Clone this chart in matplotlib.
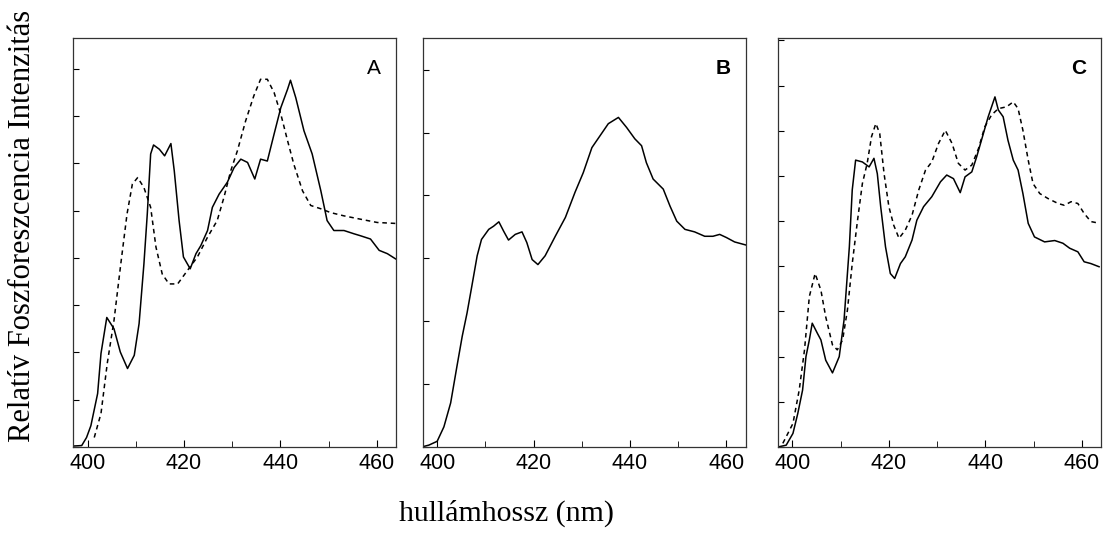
"""
Foszforeszcencia spektrumok (A, B, C panelek).
"""

import matplotlib.pyplot as plt
from matplotlib.ticker import MultipleLocator, NullFormatter

# A panel: folytonos és szaggatott görbe
a_x  = [397.1, 398.8, 399.8, 400.7, 402.1, 402.8, 404.0, 405.5, 406.8, 408.3, 409.7, 410.7, 411.7,
        412.4, 413.1, 413.7, 414.9, 416.0, 417.3, 418.0, 419.0, 419.9, 421.3, 422.5, 423.5,
        424.9, 425.9, 427.3, 429.0, 430.4, 431.8, 433.2, 434.7, 435.9, 437.3, 438.7, 440.1,
        441.5, 442.1, 443.2, 444.9, 446.6, 448.4, 449.7, 451.1, 453.2, 455.3, 456.6, 458.7,
        460.5, 462.2, 463.9]
a_y  = [0.02, 0.03, 0.20, 0.45, 1.13, 1.98, 2.74, 2.50, 2.01, 1.66, 1.94, 2.61, 3.87,
        4.93, 6.20, 6.39, 6.30, 6.16, 6.42, 5.84, 4.79, 4.02, 3.77, 4.09, 4.26,
        4.58, 5.07, 5.35, 5.60, 5.91, 6.09, 6.02, 5.67, 6.09, 6.05, 6.62, 7.18,
        7.57, 7.76, 7.39, 6.69, 6.20, 5.42, 4.79, 4.58, 4.58, 4.51, 4.47, 4.40,
        4.16, 4.09, 3.98]
a2_x = [401.4, 402.8, 404.1, 405.5, 406.9, 408.2, 409.3, 410.4, 411.7, 413.1, 414.2, 415.5,
        416.9, 418.7, 420.7, 422.8, 424.9, 426.9, 428.3, 429.7, 431.1, 432.8, 434.5, 435.9,
        437.3, 438.7, 440.1, 441.5, 442.8, 444.6, 446.3, 448.4, 450.4, 453.2, 456.6, 460.1,
        463.9]
a2_y = [0.20, 0.71, 1.77, 2.68, 3.87, 4.93, 5.56, 5.70, 5.49, 5.07, 4.23, 3.66,
        3.45, 3.45, 3.73, 4.02, 4.44, 4.79, 5.28, 5.84, 6.27, 6.90, 7.43, 7.78,
        7.78, 7.50, 7.04, 6.48, 5.98, 5.42, 5.11, 5.04, 4.96, 4.89, 4.82, 4.75,
        4.73]

# B panel
b_x = [396.8, 398.3, 400.0, 401.4, 402.8, 404.1, 405.2, 406.2, 407.2, 408.3, 409.2, 410.7,
       411.7, 412.8, 413.8, 414.8, 416.2, 417.6, 418.6, 419.7, 420.9, 422.4, 424.5, 426.6,
       428.6, 430.3, 432.1, 433.8, 435.5, 437.6, 439.3, 441.0, 442.4, 443.4, 444.8, 446.9,
       448.3, 449.7, 451.4, 453.4, 455.5, 457.2, 458.6, 460.0, 461.7, 464.1]
b_y = [0.00, 0.03, 0.09, 0.32, 0.70, 1.28, 1.76, 2.13, 2.56, 3.04, 3.30, 3.46,
       3.51, 3.58, 3.43, 3.29, 3.38, 3.42, 3.25, 2.98, 2.90, 3.04, 3.35, 3.65,
       4.05, 4.36, 4.76, 4.95, 5.14, 5.24, 5.08, 4.90, 4.79, 4.52, 4.26, 4.10,
       3.83, 3.59, 3.46, 3.42, 3.35, 3.35, 3.38, 3.33, 3.26, 3.21]

# C panel
c_x  = [397.0, 398.7, 400.1, 401.1, 402.1, 402.8, 403.5, 404.1, 405.2, 405.9, 406.9, 408.3,
        409.7, 410.7, 411.8, 412.4, 413.1, 414.5, 415.9, 416.9, 417.6, 418.3, 419.3, 420.3,
        421.2, 422.4, 423.4, 424.8, 425.8, 427.2, 428.9, 430.7, 432.0, 433.4, 434.8, 435.8,
        437.2, 438.2, 439.2, 440.6, 442.0, 442.7, 443.7, 444.7, 445.8, 446.8, 447.8, 448.9,
        450.2, 452.3, 454.4, 456.1, 457.5, 459.2, 460.5, 461.9, 463.6]
c_y  = [0.00, 0.04, 0.30, 0.74, 1.26, 2.00, 2.37, 2.74, 2.51, 2.37, 1.92, 1.64,
        2.00, 2.81, 4.43, 5.69, 6.35, 6.31, 6.20, 6.39, 6.05, 5.32, 4.43, 3.84,
        3.73, 4.06, 4.21, 4.58, 5.02, 5.32, 5.54, 5.87, 6.02, 5.94, 5.63, 5.98,
        6.09, 6.42, 6.79, 7.31, 7.75, 7.46, 7.31, 6.79, 6.35, 6.13, 5.61, 4.95,
        4.65, 4.54, 4.57, 4.51, 4.40, 4.32, 4.10, 4.06, 3.99]
c2_x = [398.0, 400.1, 401.4, 402.5, 403.5, 404.7, 405.9, 406.9, 408.3, 409.3, 410.4, 411.4,
        412.4, 413.5, 414.5, 415.5, 416.4, 417.3, 418.1, 419.0, 420.0, 421.0, 422.1, 423.4,
        424.8, 426.2, 427.6, 428.9, 430.3, 431.7, 433.1, 434.4, 435.8, 437.2, 438.6, 439.9,
        441.3, 442.7, 444.4, 445.8, 446.8, 447.8, 448.9, 449.9, 451.3, 453.0, 455.1, 456.4,
        457.8, 459.2, 460.5, 461.9, 463.3]
c2_y = [0.08, 0.52, 1.26, 2.15, 3.33, 3.84, 3.47, 2.88, 2.26, 2.15, 2.37, 3.03,
        4.06, 5.02, 5.83, 6.28, 6.87, 7.16, 6.94, 6.05, 5.32, 4.91, 4.62, 4.80,
        5.13, 5.69, 6.13, 6.31, 6.72, 7.01, 6.72, 6.28, 6.13, 6.24, 6.61, 7.09,
        7.35, 7.49, 7.53, 7.64, 7.49, 7.01, 6.35, 5.83, 5.61, 5.50, 5.39, 5.35,
        5.43, 5.39, 5.17, 4.99, 4.96]

betuk = ['A', 'B', 'C']
x_ticks = [400, 420, 440, 460]

fig = plt.figure(figsize=(11.1, 5.33), dpi=100)
bal = [0.0658, 0.3808, 0.7009]
ymax = [8.65, 6.5, 9.05]
axes = [fig.add_axes([b, 0.1614, 0.291, 0.767]) for b in bal]

axes[0].plot(a_x, a_y, color='black', lw=1.1)
axes[0].plot(a2_x, a2_y, color='black', lw=1.1, ls=(0, (3, 2.5)))
axes[1].plot(b_x, b_y, color='black', lw=1.1)
axes[2].plot(c_x, c_y, color='black', lw=1.1)
axes[2].plot(c2_x, c2_y, color='black', lw=1.1, ls=(0, (3, 2.5)))

for ax, betu, ym in zip(axes, betuk, ymax):
  ax.set_xlim(397, 464)
  ax.set_ylim(0, ym)
  ax.set_xticks(x_ticks)
  ax.xaxis.set_minor_locator(MultipleLocator(10))
  ax.yaxis.set_major_locator(MultipleLocator(1))
  ax.yaxis.set_major_formatter(NullFormatter())
  ax.tick_params(axis='x', which='major', direction='in', length=5, pad=4,
                 labelsize=15.5, labelfontfamily='Liberation Sans')
  ax.tick_params(axis='x', which='minor', direction='in', length=4)
  ax.tick_params(axis='y', direction='in', length=4)
  for s in ax.spines.values():
    s.set_linewidth(0.9)
    s.set_color('#333333')
  ax.text(0.93, 0.925, betu, transform=ax.transAxes, ha='center', va='center',
          fontsize=15, family='Liberation Sans',
          fontweight='normal' if betu == 'A' else 'bold')

fig.text(0.02, 0.576, 'Relatív Foszforeszcencia Intenzitás', rotation=90,
         ha='center', va='center', fontsize=22, family='Liberation Serif')
fig.text(0.4565, 0.036, 'hullámhossz (nm)', ha='center', va='center',
         fontsize=21.5, family='Liberation Serif')

plt.savefig('out.png', dpi=100)
